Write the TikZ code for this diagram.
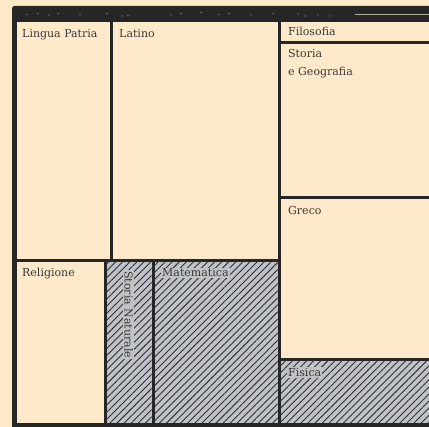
\documentclass[tikz,border=0pt]{standalone}
\usepackage{fontspec}
\setmainfont{DejaVu Serif}
\usetikzlibrary{patterns.meta}
\definecolor{cream}{HTML}{FFE9CB}
\definecolor{frame}{HTML}{262626}
\definecolor{hatchbg}{HTML}{BFC3C7}
\definecolor{hatchln}{HTML}{2E3032}
\definecolor{txt}{HTML}{3A3936}
\definecolor{speck}{HTML}{B8AE9E}
\tikzset{
  cell/.style={fill=cream},
  hcell/.style={fill=hatchbg, postaction={pattern={Lines[angle=45,distance=5pt,line width=0.9pt]}, pattern color=hatchln}},
  lbl/.style={anchor=base west, inner sep=0pt, text=txt, font=\fontsize{11}{13}\selectfont},
  hlbl/.style={lbl, fill=hatchbg, inner sep=1pt},
}
\begin{document}
\begin{tikzpicture}[x=1pt,y=-1pt]
\useasboundingbox (0,0) rectangle (429,427);
\fill[cream] (0,0) rectangle (429,427);
% dark frame
\fill[frame, rounded corners=2.5pt] (12,6) rectangle (445,445);
% specks in the top bar
\foreach \x/\y in {27/14.5,38/13.5,49/15,58/13.5,80/14.5,107/13.5,122/16,128/15.5,171/15,181/13.5,201/12.5,219/14.5,229/13.5,251/15,273/13.5,298/14,318/15,330/16,305/16}
  \fill[speck] (\x,\y) circle (0.6);
\fill[speck] (355,14.2) rectangle (429,15.3);
% cells
\fill[cell] (17,22) rectangle (109.5,259.5);
\fill[cell] (112.5,22) rectangle (277.5,259.5);
\fill[cell] (280.5,22) rectangle (429,41.5);
\fill[cell] (280.5,44.5) rectangle (429,196.5);
\fill[cell] (280.5,199.5) rectangle (429,358);
\fill[hcell] (280.5,361) rectangle (429,423);
\fill[cell] (17,262.5) rectangle (103.5,423);
\fill[hcell] (106.5,262.5) rectangle (151.5,423);
\fill[hcell] (154.5,262.5) rectangle (277.5,423);
% labels
\node[lbl] (lingua) at (22,37.3) {Lingua Patria};
\node[lbl] (latino) at (119,37.3) {Latino};
\node[lbl] (filosofia) at (288,35.5) {Filosofia};
\node[lbl] (storia) at (288,58) {Storia};
\node[lbl] (geografia) at (288,76) {e Geografia};
\node[lbl] (greco) at (288,215) {Greco};
\node[lbl] (religione) at (22,277) {Religione};
\node[hlbl] (matematica) at (161,277) {Matematica};
\node[hlbl, rotate=-90] (storianat) at (124.5,270) {Storia Naturale};
\node[hlbl] (fisica) at (287,376.5) {Fisica};
\end{tikzpicture}
\end{document}
